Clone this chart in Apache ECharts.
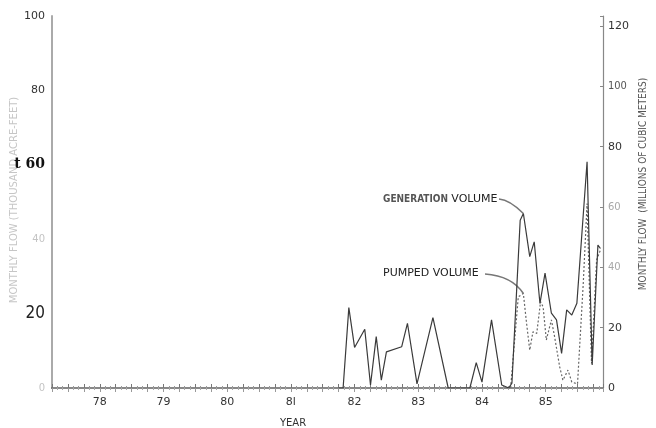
<!DOCTYPE html>
<html>
<head>
<meta charset="utf-8">
<script src="https://cdn.jsdelivr.net/npm/echarts@6/dist/echarts.min.js"></script>
<style>
  html, body { margin: 0; padding: 0; background: #ffffff; }
  #chart { width: 656px; height: 428px; }
</style>
</head>
<body>
<div id="chart"></div>
<script>
// Year tick labels (value 78 .. 85)
const yearTicks = [78, 79, 80, 81, 82, 83, 84, 85];
const yearLabels = ['78', '79', '80', '8l', '82', '83', '84', '85'];

// Generation volume, monthly flow (thousand acre-feet)
const genYears = [81.75, 81.82, 81.91, 82.00, 82.16, 82.25, 82.34, 82.42, 82.50, 82.74, 82.83, 82.98,
  83.23, 83.47, 83.81, 83.91, 84.00, 84.15, 84.31, 84.42, 84.47, 84.60, 84.65, 84.75, 84.82,
  84.91, 84.99, 85.09, 85.17, 85.25, 85.33, 85.41, 85.49, 85.65, 85.73, 85.82, 85.86];
const genFlow = [0, 0, 21.6, 10.9, 15.8, 0.8, 13.8, 2.1, 9.7, 11.1, 17.4, 1.1,
  18.9, 0, 0, 6.8, 1.6, 18.3, 0.8, 0, 1.3, 45.1, 46.9, 35.3, 39.3,
  22.7, 30.9, 20.1, 18.3, 9.3, 21.0, 19.6, 22.8, 60.8, 6.2, 38.4, 37.5];

// Pumped volume, monthly flow (thousand acre-feet)
const pumpYears = [84.45, 84.57, 84.65, 84.70, 84.75, 84.80, 84.86, 84.92, 84.96, 85.01, 85.09,
  85.14, 85.22, 85.27, 85.35, 85.41, 85.50, 85.59, 85.65, 85.72, 85.80, 85.86];
const pumpFlow = [0, 24.5, 25.4, 17.4, 10.2, 15.1, 14.7, 23.2, 21.8, 12.9, 18.3,
  13.8, 5.7, 2.1, 4.8, 1.6, 1.1, 28.1, 49.6, 6.6, 34.4, 37.1];

// Axis ranges: 100 thousand acre-feet = 123.35 million cubic meters
const leftMax = 100;
const rightMax = 123.35;

const pair = (xs, ys) => xs.map((x, i) => [x, ys[i]]);

const chart = echarts.init(document.getElementById('chart'), null, { renderer: 'canvas' });

const font = 'DejaVu Sans';

const option = {
  backgroundColor: '#ffffff',
  animation: false,
  grid: { left: 52, right: 53, top: 16, bottom: 40, outerBoundsMode: 'none', containLabel: false },
  xAxis: [
    {
      type: 'value', min: 77.25, max: 85.9, interval: 0.25,
      axisLine: { show: true, lineStyle: { color: '#555', width: 2 } },
      axisTick: { show: true, inside: true, length: 4, lineStyle: { color: '#777' } },
      minorTick: { show: true, splitNumber: 3, length: 2, lineStyle: { color: '#999' } },
      splitLine: { show: false },
      axisLabel: {
        margin: 9, color: '#333', fontFamily: font, fontSize: 11,
        formatter: v => {
          const i = Math.round(v);
          if (Math.abs(v - i) > 1e-6) return '';
          const k = yearTicks.indexOf(i);
          return k >= 0 ? yearLabels[k] : '';
        }
      }
    },
    {
      type: 'value', position: 'top', min: 77.25, max: 85.9, interval: 0.25,
      axisLine: { show: true, lineStyle: { color: '#999', width: 1.5 } },
      axisTick: { show: true, inside: true, length: 4, lineStyle: { color: '#999' } },
      minorTick: { show: true, splitNumber: 3, length: 2, lineStyle: { color: '#aaa' } },
      splitLine: { show: false },
      axisLabel: { show: false }
    }
  ],
  yAxis: [
    {
      type: 'value', min: 0, max: leftMax, interval: 20, position: 'left',
      axisLine: { show: true, lineStyle: { color: '#aaa', width: 2 } },
      axisTick: { show: false },
      splitLine: { show: false },
      axisLabel: {
        margin: 7,
        formatter: v => ({ 0: '{f|0}', 20: '{c|20}', 40: '{f|40}', 60: '{d|t 60}', 80: '{b|80}', 100: '{b|100}' }[v] || ''),
        rich: {
          b: { color: '#333', fontFamily: font, fontSize: 11 },
          c: { color: '#222', fontFamily: 'DejaVu Sans Condensed', fontSize: 17 },
          d: { color: '#111', fontFamily: 'DejaVu Serif', fontWeight: 'bold', fontSize: 14 },
          f: { color: '#c4c4c4', fontFamily: font, fontSize: 10 }
        }
      }
    },
    {
      type: 'value', min: 0, max: rightMax, interval: 20, position: 'right',
      axisLine: { show: true, lineStyle: { color: '#888', width: 1.2 } },
      axisTick: { show: true, inside: true, length: 3, lineStyle: { color: '#888' } },
      splitLine: { show: false },
      axisLabel: {
        margin: 5,
        formatter: v => ({ 0: '{a|0}', 20: '{a|20}', 40: '{g|40}', 60: '{g|60}', 80: '{a|80}', 100: '{n|100}', 120: '{a|120}' }[v] || ''),
        rich: {
          a: { color: '#333', fontFamily: font, fontSize: 11 },
          n: { color: '#555', fontFamily: 'DejaVu Sans Condensed', fontSize: 11 },
          g: { color: '#a8a8a8', fontFamily: font, fontSize: 10 }
        }
      }
    }
  ],
  series: [
    {
      name: 'GENERATION VOLUME', type: 'line', xAxisIndex: 0, yAxisIndex: 0,
      data: pair(genYears, genFlow), symbol: 'none',
      lineStyle: { color: '#3a3a3a', width: 1.2 }, z: 3
    },
    {
      name: 'PUMPED VOLUME', type: 'line', xAxisIndex: 0, yAxisIndex: 0,
      data: pair(pumpYears, pumpFlow), symbol: 'none',
      lineStyle: { color: '#666', width: 1.2, type: [2, 2] }, z: 2
    }
  ]
};

chart.setOption(option);

// Labels and leader lines tied to the series points they describe
const genPt = chart.convertToPixel({ xAxisIndex: 0, yAxisIndex: 0 }, [84.65, 46.9]);
const pumpPt = chart.convertToPixel({ xAxisIndex: 0, yAxisIndex: 0 }, [84.65, 25.4]);

chart.setOption({
  graphic: [
    {
      type: 'text', x: 14, y: 200, rotation: Math.PI / 2,
      style: { text: 'MONTHLY FLOW (THOUSAND ACRE-FEET)', fill: '#c6c6c6', font: '10px "DejaVu Sans"', align: 'center', verticalAlign: 'middle' }
    },
    {
      type: 'text', x: 643, y: 184, rotation: Math.PI / 2,
      style: { text: 'MONTHLY FLOW  (MILLIONS OF CUBIC METERS)', fill: '#555', font: '10px "DejaVu Sans Condensed"', align: 'center', verticalAlign: 'middle' }
    },
    {
      type: 'text', x: 293, y: 423,
      style: { text: 'YEAR', fill: '#333', font: '10px "DejaVu Sans"', align: 'center', verticalAlign: 'middle' }
    },
    {
      type: 'text', x: 383, y: 199,
      style: {
        text: '{g|GENERATION} {v|VOLUME}', verticalAlign: 'middle', align: 'left',
        rich: {
          g: { fill: '#555', fontFamily: 'DejaVu Sans Condensed', fontWeight: 'bold', fontSize: 10 },
          v: { fill: '#222', fontFamily: font, fontSize: 11 }
        }
      }
    },
    {
      type: 'text', x: 383, y: 273,
      style: { text: 'PUMPED VOLUME', fill: '#222', font: '11px "DejaVu Sans"', align: 'left', verticalAlign: 'middle' }
    },
    {
      type: 'bezierCurve',
      shape: { x1: 499, y1: 199, cpx1: 510, cpy1: 200, x2: genPt[0], y2: genPt[1] },
      style: { stroke: '#777', lineWidth: 1.5, fill: null }
    },
    {
      type: 'bezierCurve',
      shape: { x1: 485, y1: 274, cpx1: 512, cpy1: 276, x2: pumpPt[0], y2: pumpPt[1] },
      style: { stroke: '#777', lineWidth: 1.5, fill: null }
    }
  ]
});
</script>
</body>
</html>
